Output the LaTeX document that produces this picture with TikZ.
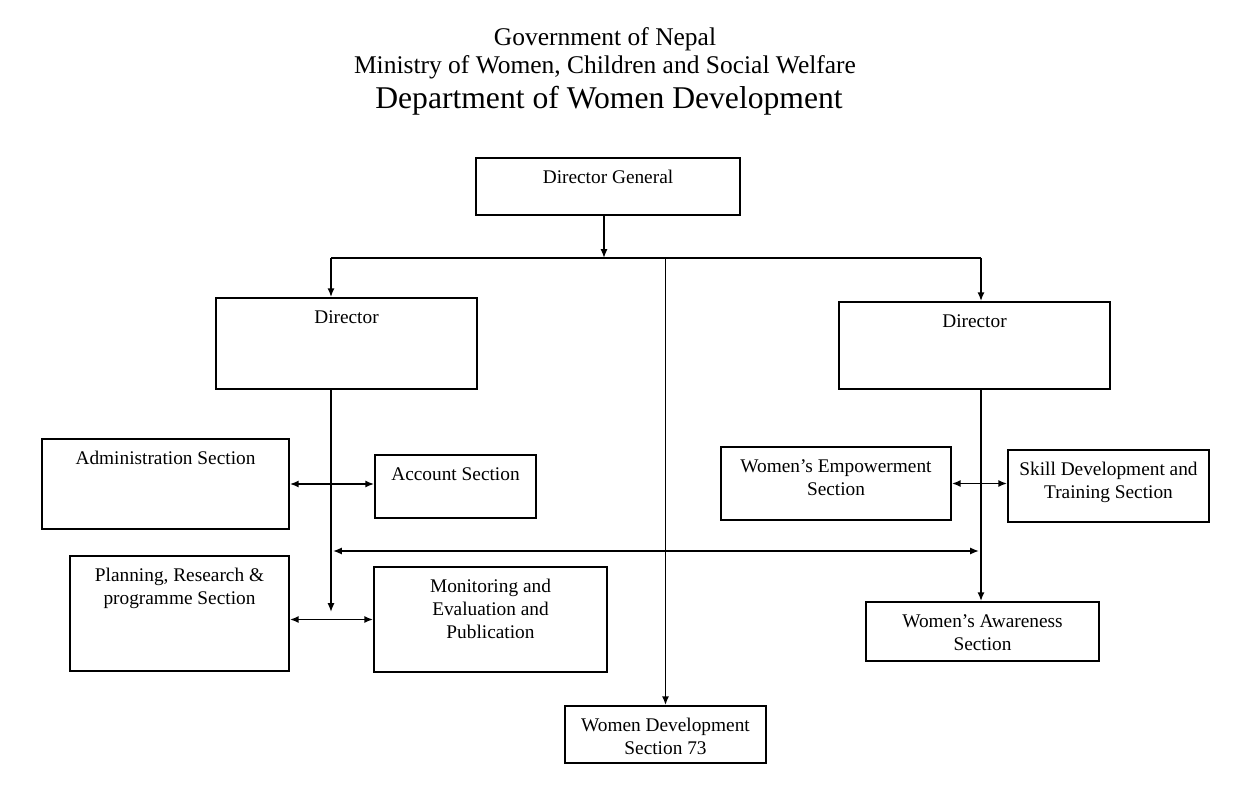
\documentclass[tikz,border=0pt]{standalone}
\usepackage{fontspec}
\setmainfont{Liberation Serif}
\usetikzlibrary{arrows.meta,positioning}

\begin{document}
\begin{tikzpicture}[
    box/.style={draw, line width=1pt, inner sep=0pt},
    intop/.style={label={[anchor=north, yshift=-0.26cm, inner sep=0pt, align=center,
                  font=\fontsize{11}{13}\selectfont]north:#1}},
    arr/.style={-{Latex[length=5pt,width=4pt]}, line width=0.9pt},
    dbl/.style={{Latex[length=5pt,width=4pt]}-{Latex[length=5pt,width=4pt]}, line width=0.9pt},
    ttl/.style={font=\fontsize{14.5}{16}\selectfont},
  ]
    \useasboundingbox (0,0) rectangle (24.96,-15.74);

    % heading
    \node[ttl] (gov)  at (12.1,-0.78) {Government of Nepal};
    \node[ttl] (min)  at (12.1,-1.35) {Ministry of Women, Children and Social Welfare};
    \node[font=\fontsize{18}{20}\selectfont] (dept) at (12.18,-2.02) {Department of Women Development};

    % boxes
    \node[box, minimum width=5.28cm, minimum height=1.14cm, intop={Director General}] (dg) at (12.16,-3.73) {};
    \node[box, minimum width=5.22cm, minimum height=1.82cm, intop={Director}] (dirL) at (6.93,-6.87) {};
    \node[box, minimum width=5.42cm, minimum height=1.74cm, intop={Director}] (dirR) at (19.49,-6.91) {};
    \node[box, minimum width=4.94cm, minimum height=1.80cm, intop={Administration Section}] (adm) at (3.31,-9.68) {};
    \node[box, minimum width=3.22cm, minimum height=1.26cm, intop={Account Section}] (acc) at (9.11,-9.73) {};
    \node[box, minimum width=4.38cm, minimum height=2.30cm, intop={Planning, Research \&\\programme Section}] (plan) at (3.59,-12.27) {};
    \node[box, minimum width=4.66cm, minimum height=2.10cm, intop={Monitoring and\\Evaluation and\\Publication}] (mon) at (9.81,-12.39) {};
    \node[box, minimum width=4.60cm, minimum height=1.46cm, intop={Women's Empowerment\\Section}] (emp) at (16.72,-9.67) {};
    \node[box, minimum width=4.02cm, minimum height=1.44cm, intop={Skill Development and\\Training Section}] (skill) at (22.17,-9.72) {};
    \node[box, minimum width=4.66cm, minimum height=1.18cm, intop={Women's Awareness\\Section}] (aware) at (19.65,-12.63) {};
    \node[box, minimum width=4.02cm, minimum height=1.14cm, intop={Women Development\\Section 73}] (wds) at (13.31,-14.69) {};

    % bus and branch points
    \coordinate (drop)   at (12.08,-4.3);
    \coordinate (busL)   at (6.62,-5.16);
    \coordinate (busR)   at (19.62,-5.16);
    \coordinate (spineL) at (6.62,-12.24);
    \coordinate (crossL) at (6.66,-11.02);
    \coordinate (crossR) at (19.58,-11.02);

    \draw[arr] (drop) -- (drop |- busL);
    \draw[line width=0.9pt] (busL) -- (busR);
    \draw[arr] (busL) -- (busL |- dirL.north);
    \draw[arr] (busR) -- (busR |- dirR.north);
    \draw[arr] (wds.north |- busL) -- (wds.north);

    \draw[arr] (busL |- dirL.south) -- (spineL);
    \draw[dbl] (adm.east) -- (adm.east -| acc.west);
    \draw[dbl] (plan.east |- mon.west) -- (mon.west);
    \draw[dbl] (crossL) -- (crossR);

    \draw[arr] (busR |- dirR.south) -- (busR |- aware.north);
    \draw[dbl] (emp.east) -- (emp.east -| skill.west);
  \end{tikzpicture}
\end{document}
